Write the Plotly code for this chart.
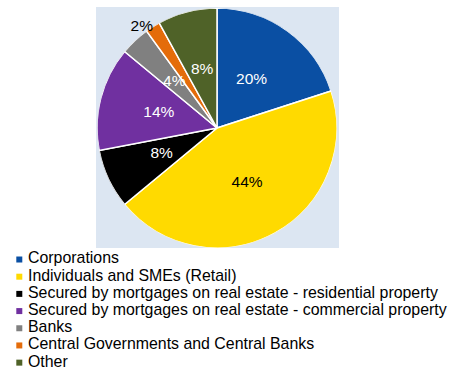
import numpy as np
import plotly.graph_objects as go

# --- data ---
categories = [
    "Corporations",
    "Individuals and SMEs (Retail)",
    "Secured by mortgages on real estate - residential property",
    "Secured by mortgages on real estate - commercial property",
    "Banks",
    "Central Governments and Central Banks",
    "Other",
]
shares = [20, 44, 8, 14, 4, 2, 8]

# --- style ---
SLICE_COLORS = ["#0A4FA3", "#FFDA00", "#000000", "#7030A0", "#808080", "#E46C0A", "#4F6228"]
LABEL_COLORS = ["white", "black", "white", "white", "white", "black", "white"]
# 2% sits just outside the rim, anchored to the left of its bisector
LABEL_RADIUS = [0.49, 0.52, 0.51, 0.5, 0.52, 0.995, 0.5]
LABEL_POS = ["middle center"] * 5 + ["middle left", "middle center"]
FONT = "Liberation Sans, Arial, sans-serif"
W, H = 449, 369
PIE_X = [96 / W, 338 / W]
PIE_Y = [(H - 248) / H, (H - 8) / H]

# slice geometry from the shares (degrees clockwise from 12 o'clock)
vals = np.array(shares, dtype=float)
pct = vals / vals.sum()
span_deg = pct * 360
mid_deg = (np.cumsum(pct) - pct / 2) * 360
pct_text = [f"{p:.0%}" for p in pct]

fig = go.Figure()

# pie drawn as full-radius polar wedges so labels can sit on top of it
fig.add_trace(go.Barpolar(
    r=[1] * len(shares), theta=mid_deg, width=span_deg, base=0,
    marker=dict(color=SLICE_COLORS, line=dict(color="white", width=1.5)),
    customdata=categories, hovertemplate="%{customdata}<extra></extra>",
    showlegend=False,
))

# percentage labels on the slice bisectors
fig.add_trace(go.Scatterpolar(
    r=LABEL_RADIUS, theta=mid_deg, mode="text", text=pct_text,
    textposition=LABEL_POS,
    textfont=dict(family=FONT, size=15.5, color=LABEL_COLORS),
    showlegend=False, hoverinfo="skip", cliponaxis=False,
))

# legend drawn as a small category scatter so the row spacing matches
fig.add_trace(go.Scatter(
    x=[19.3] * len(categories), y=categories, mode="markers",
    marker=dict(symbol="square", size=6, color=SLICE_COLORS),
    showlegend=False, hoverinfo="skip", cliponaxis=False,
))
fig.add_trace(go.Scatter(
    x=[28] * len(categories), y=categories, mode="text",
    text=categories, textposition="middle right",
    textfont=dict(family=FONT, size=15.9, color="#000000"),
    showlegend=False, hoverinfo="skip", cliponaxis=False,
))

fig.add_shape(type="rect", xref="paper", yref="paper", layer="below",
              x0=96 / W, x1=339 / W, y0=(H - 248) / H, y1=(H - 7) / H,
              fillcolor="#DCE6F2", line_width=0)

fig.update_layout(
    width=W, height=H,
    margin=dict(l=0, r=0, t=0, b=0, autoexpand=False),
    paper_bgcolor="white", plot_bgcolor="rgba(0,0,0,0)",
    font=dict(family=FONT),
    polar=dict(
        domain=dict(x=PIE_X, y=PIE_Y), bgcolor="rgba(0,0,0,0)", hole=0,
        angularaxis=dict(rotation=90, direction="clockwise", visible=False),
        radialaxis=dict(range=[0, 1], visible=False),
    ),
    xaxis=dict(range=[0, W], domain=[0, 1], visible=False, fixedrange=True),
    yaxis=dict(type="category", categoryorder="array", categoryarray=categories,
               range=[6.37, -0.5], domain=[0, 0.32], visible=False, fixedrange=True),
)

fig.write_html("out.html", config={"displayModeBar": False},
               post_script="document.body.style.margin='0';")
